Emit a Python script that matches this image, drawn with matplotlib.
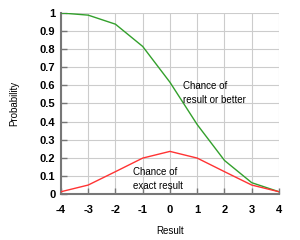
import matplotlib; matplotlib.use("Agg")
import matplotlib.pyplot as plt

results = [-4, -3, -2, -1, 0, 1, 2, 3, 4]
p_or_better = [1.0, 0.988, 0.938, 0.815, 0.617, 0.383, 0.185, 0.062, 0.012]
p_exact = [0.012, 0.049, 0.123, 0.198, 0.235, 0.198, 0.123, 0.049, 0.012]
y_ticks = [0, 0.1, 0.2, 0.3, 0.4, 0.5, 0.6, 0.7, 0.8, 0.9, 1]
y_labels = ["0", "0.1", "0.2", "0.3", "0.4", "0.5", "0.6", "0.7", "0.8", "0.9", "1"]

plt.rcParams["font.family"] = ["Liberation Sans", "DejaVu Sans"]
fig = plt.figure(figsize=(3, 2.4), dpi=100)
ax = fig.add_axes([0.203, 0.192, 0.727, 0.754])

ax.plot(results, p_or_better, color="#33a02c", lw=1.0, zorder=3)
ax.plot(results, p_exact, color="#ff3333", lw=1.0, zorder=3)

ax.set_xlim(-4, 4); ax.set_ylim(0, 1)
ax.set_xticks(results); ax.set_yticks(y_ticks)
ax.set_xticklabels([str(r) for r in results], fontsize=8, fontweight="bold")
ax.set_yticklabels(y_labels, fontsize=8, fontweight="bold")
ax.grid(True, color="#cccccc", lw=0.8, zorder=0)
ax.tick_params(direction="in", length=4, color="#777777", width=1)
ax.tick_params(axis="x", pad=8)
ax.tick_params(axis="y", pad=4)
for s in ["top", "right"]:
    ax.spines[s].set_visible(False)
for s in ["left", "bottom"]:
    ax.spines[s].set_color("#777777"); ax.spines[s].set_linewidth(1.5)

ax.set_xlabel("Result", fontsize=7, labelpad=8)
ax.set_ylabel("Probability", fontsize=7, labelpad=15)

ax.text(0.48, 0.558, "Chance of\nresult or better", fontsize=7, va="center", ha="left", linespacing=1.6)
ax.text(-1.37, 0.083, "Chance of\nexact result", fontsize=7, va="center", ha="left", linespacing=1.6)

fig.savefig("out.png", dpi=100)
